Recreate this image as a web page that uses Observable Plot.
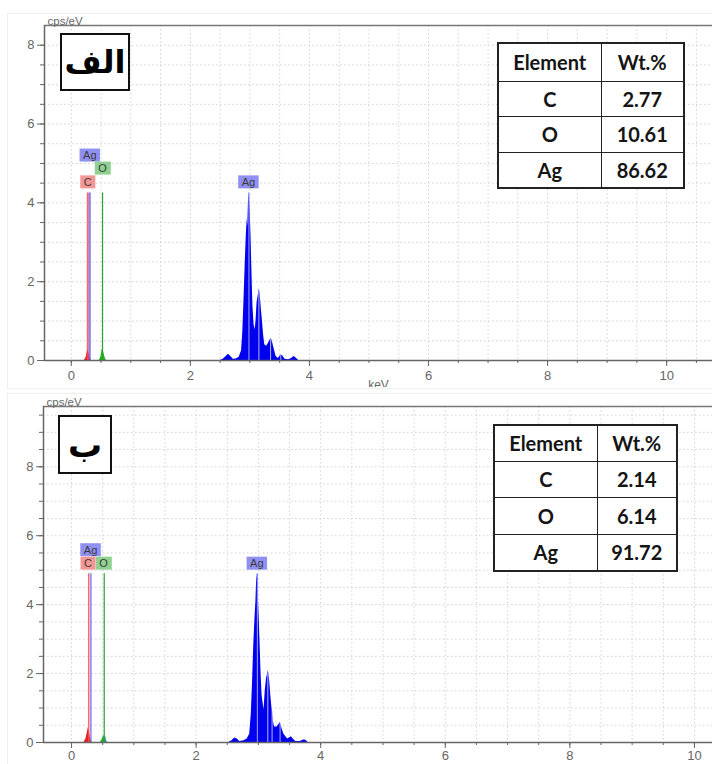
<!DOCTYPE html>
<html><head><meta charset="utf-8">
<script src="https://cdn.jsdelivr.net/npm/d3@7"></script>
<script src="https://cdn.jsdelivr.net/npm/@observablehq/plot@0.6"></script>
<style>
body{margin:0;background:#fff;}
#wrap{position:relative;width:712px;height:764px;overflow:hidden;background:#fff;}
.pane{position:absolute;left:0;width:712px;overflow:hidden;}
.pane svg{display:block;}
.ghost{position:absolute;border:1px solid #efefef;border-right:none;}
table.tbl{position:absolute;border-collapse:collapse;table-layout:fixed;background:#fff;font-family:Lato,"Open Sans",sans-serif;font-weight:700;font-size:20px;color:#151515;border:2px solid #222;}
table.tbl td{border:1.5px solid #222;text-align:center;padding:0;line-height:1;}
.tag{position:absolute;box-sizing:border-box;border:2px solid #111;background:#fff;font-family:"DejaVu Sans",sans-serif;font-weight:bold;display:flex;align-items:center;justify-content:center;color:#000;}
</style></head>
<body><div id="wrap"></div>
<script>
// ---------- data ----------
const elements = ["C", "O", "Ag"];
const wtA = ["2.77", "10.61", "86.62"];
const wtB = ["2.14", "6.14", "91.72"];
const tableHeader = ["Element", "Wt.%"];
const panelTags = ["الف", "ب"];
const xTicks = [0, 2, 4, 6, 8, 10];
const yTicks = [0, 2, 4, 6, 8];

// spectrum A (top): [keV, cps/eV]
const cPeakA = [[0.22,0],[0.25,0.08],[0.27,0.24],[0.285,0.26],[0.30,0.15],[0.32,0.04],[0.34,0]];
const oPeakA = [[0.47,0],[0.50,0.1],[0.515,0.26],[0.53,0.3],[0.545,0.2],[0.565,0.08],[0.59,0]];
const agPeakA = [[2.50,0],[2.55,0.03],[2.60,0.10],[2.64,0.16],[2.68,0.10],[2.72,0.03],[2.77,0.04],[2.82,0.08],[2.86,0.25],[2.88,0.7],[2.90,1.5],[2.92,2.4],[2.94,3.2],[2.955,3.6],[2.965,3.4],[2.975,4.0],[2.985,4.27],[2.995,4.05],[3.005,3.75],[3.02,3.1],[3.035,2.2],[3.05,1.4],[3.07,0.9],[3.09,0.78],[3.105,1.05],[3.12,1.45],[3.14,1.65],[3.16,1.82],[3.175,1.62],[3.19,1.35],[3.21,1.0],[3.23,0.65],[3.25,0.4],[3.28,0.36],[3.31,0.43],[3.34,0.52],[3.36,0.55],[3.38,0.46],[3.41,0.28],[3.44,0.1],[3.48,0.05],[3.52,0.14],[3.55,0.12],[3.59,0.03],[3.65,0.02],[3.70,0.05],[3.74,0.1],[3.78,0.06],[3.82,0]];
const agMinorA = [[3.151,1.75],[3.348,0.52],[3.519,0.13]];

// spectrum B (bottom)
const cPeakB = [[0.20,0],[0.23,0.1],[0.255,0.3],[0.27,0.44],[0.285,0.32],[0.305,0.1],[0.33,0]];
const oPeakB = [[0.46,0],[0.49,0.08],[0.515,0.2],[0.535,0.16],[0.56,0.05],[0.58,0]];
const agSpikeB = [[0.545,0],[0.555,0.22],[0.565,0]];
const agPeakB = [[2.52,0],[2.57,0.04],[2.62,0.13],[2.66,0.1],[2.70,0.03],[2.77,0.05],[2.82,0.1],[2.86,0.24],[2.885,0.8],[2.905,1.7],[2.925,2.8],[2.945,3.6],[2.96,4.1],[2.972,4.7],[2.985,4.9],[3.0,4.2],[3.015,3.5],[3.03,2.7],[3.045,1.9],[3.06,1.35],[3.09,0.95],[3.11,1.5],[3.13,1.85],[3.16,2.08],[3.18,1.8],[3.20,1.35],[3.22,0.95],[3.24,0.62],[3.26,0.45],[3.30,0.45],[3.35,0.58],[3.38,0.4],[3.41,0.24],[3.47,0.1],[3.53,0.17],[3.57,0.08],[3.60,0.03],[3.67,0.03],[3.74,0.08],[3.77,0.05],[3.80,0]];
const agMinorB = [[3.151,2.0],[3.22,0.9],[3.348,0.56]];

// element line energies (keV) and marker heights
const lineC = 0.277, lineO = 0.525, lineAgM = 0.311, lineAgL = 2.984;
const markerHA = 4.25, markerHB = 4.9;

// peak labels: text, keV, height
const labelsA = [["Ag",0.311,5.2],["O",0.525,4.87],["C",0.277,4.52],["Ag",2.975,4.52]];
const labelsB = [["Ag",0.305,5.58],["C",0.265,5.19],["O",0.515,5.19],["Ag",2.975,5.19]];

// ---------- styling ----------
const RED = "#e52222", GREEN = "#1fb31f", BLUE = "#0000ee";
const boxColor = {Ag:"#9090f2", C:"#f39696", O:"#90d090"};
const ns = "http://www.w3.org/2000/svg";

function panel(o) {
  const ymax = o.ymax, xmin = -0.45;
  const grid = {stroke:"#d2d2d2", strokeDasharray:"1.5,2.5", strokeWidth:1};
  const svg = Plot.plot({
    width: 712, height: o.height,
    marginLeft: o.ml, marginRight: 0, marginTop: o.mt, marginBottom: o.mb,
    x: {domain:[xmin, o.xmax], label:null},
    y: {domain:[0, ymax], label:null},
    style: {fontFamily:"'Liberation Sans', Arial, sans-serif", fontSize:"13px", color:"#666", background:"transparent"},
    marks: [
      Plot.ruleX(d3.range(0, o.xmax, 0.5), {...grid}),
      Plot.ruleY(d3.range(0.5, ymax, 0.5), {...grid}),
      Plot.areaY(o.c, {x:d=>d[0], y:d=>d[1], fill:RED}),
      Plot.areaY(o.o, {x:d=>d[0], y:d=>d[1], fill:GREEN}),
      ...(o.spike ? [Plot.areaY(o.spike, {x:d=>d[0], y:d=>d[1], fill:"#3a7bff"})] : []),
      Plot.areaY(o.ag, {x:d=>d[0], y:d=>d[1], fill:BLUE}),
      Plot.ruleX(o.minor, {x:d=>d[0], y1:0, y2:d=>d[1], stroke:"#b4b4ff", strokeWidth:1}),
      Plot.ruleX([lineC], {y1:0, y2:o.mh, stroke:"#ff4a4a", strokeWidth:o.lw, strokeOpacity:0.85}),
      Plot.ruleX([lineAgM], {y1:0, y2:o.mh, stroke:"#5a5aff", strokeWidth:o.lw, strokeOpacity:0.75}),
      Plot.ruleX([lineO], {y1:0, y2:o.mh, stroke:"#2ea02e", strokeWidth:1.2}),
      Plot.ruleX([lineAgL], {y1:0, y2:o.mh, stroke:"#8a8aff", strokeWidth:1.2}),
      Plot.text(o.labels, {x:d=>d[1], y:d=>d[2], text:d=>d[0], fill:"#3a3a3a", fontSize:11}),
      Plot.axisY({ticks:yTicks, tickSize:7, tickPadding:3}),
      Plot.axisY({ticks:d3.range(0, ymax, 0.5), tickSize:4, tickFormat:()=>""}),
      Plot.axisX({ticks:xTicks, tickSize:6, tickPadding:o.tp}),
      Plot.axisX({ticks:d3.range(0, o.xmax, 0.5), tickSize:3, tickFormat:()=>""}),
      Plot.ruleY([0], {stroke:"#666", strokeWidth:1.5}),
      Plot.ruleY([ymax], {stroke:"#777", strokeWidth:1.5}),
      Plot.ruleX([xmin], {stroke:"#666", strokeWidth:1.5}),
      Plot.text(["cps/eV"], {frameAnchor:"top-left", textAnchor:"start", lineAnchor:"bottom", dx:3, dy:-1, fill:"#666", fontSize:11.5}),
      ...(o.kev ? [Plot.text(["keV"], {frameAnchor:"bottom", lineAnchor:"top", dy:20, fill:"#666", fontSize:12})] : [])
    ]
  });
  return svg;
}

function addBoxes(svg) {
  svg.querySelectorAll("text").forEach(t => {
    const s = t.textContent;
    if (!(s in boxColor)) return;
    const b = t.getBBox();
    const r = document.createElementNS(ns, "rect");
    r.setAttribute("x", b.x - 3.5); r.setAttribute("y", b.y - 0.5);
    r.setAttribute("width", b.width + 7); r.setAttribute("height", b.height + 1);
    r.setAttribute("fill", boxColor[s]);
    if (t.getAttribute("transform")) r.setAttribute("transform", t.getAttribute("transform"));
    t.parentNode.insertBefore(r, t);
  });
}

function table(left, top, w1, w2, rows, vals) {
  const tb = document.createElement("table");
  tb.className = "tbl";
  tb.style.left = left + "px"; tb.style.top = top + "px";
  tb.style.width = (w1 + w2) + "px";
  const cg = document.createElement("colgroup");
  [w1, w2].forEach(w => { const c = document.createElement("col"); c.style.width = w + "px"; cg.appendChild(c); });
  tb.appendChild(cg);
  const data = [tableHeader, ...elements.map((e, i) => [e, vals[i]])];
  data.forEach((row, i) => {
    const tr = document.createElement("tr");
    tr.style.height = rows[i] + "px";
    row.forEach(v => { const td = document.createElement("td"); td.textContent = v; tr.appendChild(td); });
    tb.appendChild(tr);
  });
  return tb;
}

function tag(left, top, w, h, text, fs) {
  const d = document.createElement("div");
  d.className = "tag";
  Object.assign(d.style, {left:left+"px", top:top+"px", width:w+"px", height:h+"px", fontSize:fs+"px"});
  d.textContent = text;
  return d;
}

const wrap = document.getElementById("wrap");
function ghost(l, t, w, h) { const g = document.createElement("div"); g.className = "ghost"; Object.assign(g.style, {left:l+"px", top:t+"px", width:w+"px", height:h+"px"}); wrap.appendChild(g); }
ghost(7, 13, 705, 374);
ghost(7, 393, 705, 371);

// top panel
const paneA = document.createElement("div");
paneA.className = "pane"; paneA.style.top = "0px"; paneA.style.height = "387px";
wrap.appendChild(paneA);
const svgA = panel({height:387, ml:44, mt:25, mb:27, xmax:10.77, ymax:8.5, c:cPeakA, o:oPeakA, ag:agPeakA, minor:agMinorA, mh:markerHA, labels:labelsA, lw:2, kev:true, tp:4});
paneA.appendChild(svgA);
addBoxes(svgA);

// bottom panel
const paneB = document.createElement("div");
paneB.className = "pane"; paneB.style.top = "387px"; paneB.style.height = "377px";
wrap.appendChild(paneB);
const svgB = panel({height:377, ml:43, mt:19, mb:22, xmax:10.29, ymax:9.75, c:cPeakB, o:oPeakB, spike:agSpikeB, ag:agPeakB, minor:agMinorB, mh:markerHB, labels:labelsB, lw:1.5, kev:false, tp:2});
paneB.appendChild(svgB);
addBoxes(svgB);

wrap.appendChild(table(497, 42, 103, 83, [38, 35, 36, 36], wtA));
wrap.appendChild(table(493, 424, 103, 80, [36, 36, 37, 37], wtB));
wrap.appendChild(tag(60, 33, 70, 58, panelTags[0], 32));
wrap.appendChild(tag(58, 415, 54, 59, panelTags[1], 34));
</script></body></html>
